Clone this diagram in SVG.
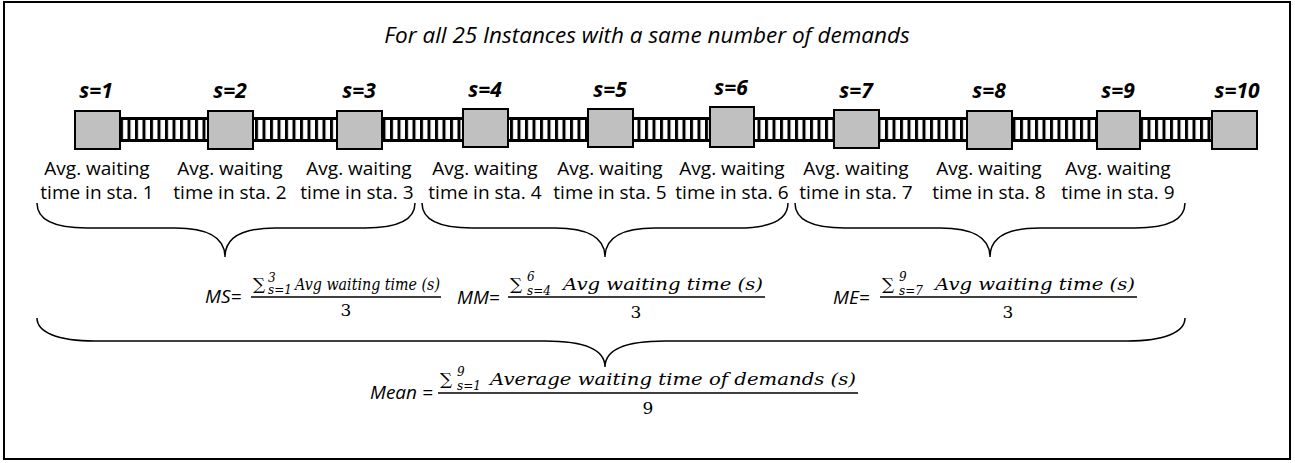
<svg xmlns="http://www.w3.org/2000/svg" width="1295" height="463" viewBox="0 0 1295 463">
<defs>
<pattern id="rail" x="0" y="0" width="7.5" height="20" patternUnits="userSpaceOnUse">
<rect x="0" y="0" width="7.5" height="20" fill="#fff"/>
<rect x="0" y="0" width="3" height="20" fill="#000"/>
</pattern>
</defs>
<style>
.title{font-family:"Open Sans",sans-serif;font-style:italic;font-size:22.5px;fill:#000}
.sl{font-family:"Open Sans",sans-serif;font-style:italic;font-weight:bold;font-size:21px;fill:#000;text-anchor:middle}
.lb{font-family:"Open Sans",sans-serif;font-size:19px;fill:#000;text-anchor:middle}
.box{fill:#c0c0c0;stroke:#000;stroke-width:2}
.br{fill:none;stroke:#000;stroke-width:1.5}
.fl{font-family:"Open Sans",sans-serif;font-style:italic;font-size:19px;fill:#000}
.m{font-family:"DejaVu Serif",serif;font-style:italic;font-size:17px;fill:#000}
.mu{font-family:"DejaVu Serif",serif;font-size:17px;fill:#000}
.ms{font-family:"DejaVu Serif",serif;font-style:italic;font-size:12px;fill:#000}
.bar{stroke:#000;stroke-width:1.5}
</style>
<rect x="4" y="2" width="1286" height="457" fill="#fff" stroke="#000" stroke-width="2"/>
<text class="title" x="647" y="43" text-anchor="middle">For all 25 Instances with a same number of demands</text>
<g id="connectors">
<rect x="118" y="117" width="1096" height="25" fill="#000"/>
<rect x="118" y="120" width="1096" height="19" fill="url(#rail)"/>
</g>
<g id="s1"><text class="sl" x="96" y="98">s=1</text><rect class="box" x="75" y="111" width="45" height="38"/><text class="lb" x="97" y="175">Avg. waiting</text><text class="lb" x="97" y="199">time in sta. 1</text></g>
<g id="s2"><text class="sl" x="230" y="98">s=2</text><rect class="box" x="208" y="111" width="45" height="38"/><text class="lb" x="230" y="175">Avg. waiting</text><text class="lb" x="230" y="199">time in sta. 2</text></g>
<g id="s3"><text class="sl" x="359" y="98">s=3</text><rect class="box" x="337" y="111" width="45" height="38"/><text class="lb" x="359" y="175">Avg. waiting</text><text class="lb" x="357" y="199">time in sta. 3</text></g>
<g id="s4"><text class="sl" x="485" y="97">s=4</text><rect class="box" x="463" y="109" width="45" height="38"/><text class="lb" x="485" y="175">Avg. waiting</text><text class="lb" x="485" y="199">time in sta. 4</text></g>
<g id="s5"><text class="sl" x="610" y="97">s=5</text><rect class="box" x="588" y="109" width="45" height="38"/><text class="lb" x="610" y="175">Avg. waiting</text><text class="lb" x="610" y="199">time in sta. 5</text></g>
<g id="s6"><text class="sl" x="731" y="95">s=6</text><rect class="box" x="710" y="107" width="44" height="40"/><text class="lb" x="732" y="175">Avg. waiting</text><text class="lb" x="732" y="199">time in sta. 6</text></g>
<g id="s7"><text class="sl" x="856" y="98">s=7</text><rect class="box" x="834" y="110" width="45" height="38"/><text class="lb" x="856" y="175">Avg. waiting</text><text class="lb" x="856" y="199">time in sta. 7</text></g>
<g id="s8"><text class="sl" x="989" y="98">s=8</text><rect class="box" x="967" y="111" width="45" height="38"/><text class="lb" x="989" y="175">Avg. waiting</text><text class="lb" x="989" y="199">time in sta. 8</text></g>
<g id="s9"><text class="sl" x="1118" y="98">s=9</text><rect class="box" x="1097" y="111" width="43" height="38"/><text class="lb" x="1118" y="175">Avg. waiting</text><text class="lb" x="1118" y="199">time in sta. 9</text></g>
<g id="s10"><text class="sl" x="1237" y="98">s=10</text><rect class="box" x="1212" y="111" width="45" height="38"/></g>
<g id="braces">
<path class="br" d="M37,203 C37,220 55,228 87,228 L175,228 C208,228 225,238 225,257 C225,238 242,228 275,228 L365,228 C397,228 415,220 415,203"/>
<path class="br" d="M422,203 C422,220 440,228 472,228 L555,228 C588,228 605,238 605,257 C605,238 622,228 655,228 L738,228 C770,228 788,220 788,203"/>
<path class="br" d="M795,203 C795,220 813,228 845,228 L940,228 C973,228 990,238 990,257 C990,238 1007,228 1040,228 L1135,228 C1167,228 1185,220 1185,203"/>
<path class="br" d="M37,318 C37,332 57,341 95,341 L545,341 C585,341 605,349 605,367 C605,349 625,341 665,341 L1127,341 C1165,341 1185,332 1185,318"/>
</g>
<g id="ms">
<text class="fl" x="205" y="303" font-size="17">MS=</text>
<text class="mu" x="253" y="290">∑</text><text class="ms" x="268" y="282" font-size="10">3</text><text class="ms" x="268" y="294" font-size="10">s=1</text>
<text class="m" x="295" y="290" font-size="14" textLength="145" lengthAdjust="spacingAndGlyphs">Avg waiting time (s)</text>
<line class="bar" x1="251" y1="297" x2="441" y2="297"/>
<text class="mu" x="346" y="316" font-size="14" text-anchor="middle">3</text>
</g>
<g id="mm">
<text class="fl" x="457" y="304">MM=</text>
<text class="mu" x="510" y="290" font-size="20">∑</text><text class="ms" x="527" y="281">6</text><text class="ms" x="527" y="295">s=4</text>
<text class="m" x="563" y="290" textLength="200" lengthAdjust="spacingAndGlyphs">Avg waiting time (s)</text>
<line class="bar" x1="508" y1="297" x2="765" y2="297"/>
<text class="mu" x="636" y="318" text-anchor="middle">3</text>
</g>
<g id="me">
<text class="fl" x="833" y="304">ME=</text>
<text class="mu" x="882" y="290" font-size="20">∑</text><text class="ms" x="899" y="281">9</text><text class="ms" x="899" y="295">s=7</text>
<text class="m" x="935" y="290" textLength="200" lengthAdjust="spacingAndGlyphs">Avg waiting time (s)</text>
<line class="bar" x1="880" y1="297" x2="1137" y2="297"/>
<text class="mu" x="1008" y="318" text-anchor="middle">3</text>
</g>
<g id="mean">
<text class="fl" x="370" y="399">Mean =</text>
<text class="mu" x="440" y="385" font-size="20">∑</text><text class="ms" x="457" y="376">9</text><text class="ms" x="457" y="390">s=1</text>
<text class="m" x="490" y="385" textLength="366" lengthAdjust="spacingAndGlyphs">Average waiting time of demands (s)</text>
<line class="bar" x1="438" y1="393" x2="858" y2="393"/>
<text class="mu" x="648" y="414" text-anchor="middle">9</text>
</g>
</svg>
